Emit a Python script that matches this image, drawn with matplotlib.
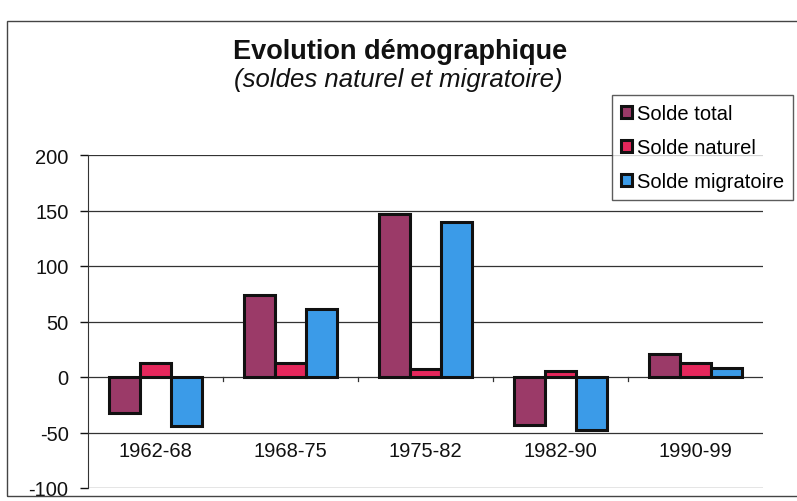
import matplotlib
matplotlib.use("Agg")
import matplotlib.pyplot as plt
import numpy as np
from matplotlib.patches import Rectangle

plt.rcParams['font.family'] = ['Liberation Sans', 'DejaVu Sans']

categories = ["1962-68", "1968-75", "1975-82", "1982-90", "1990-99"]
solde_total = [-32, 74, 147, -43, 21]
solde_naturel = [13, 13, 7, 5, 13]
solde_migratoire = [-44, 61, 140, -48, 8]
series_names = ["Solde total", "Solde naturel", "Solde migratoire"]
colors = ["#9b3a68", "#e5275c", "#3b9be8"]
yticks = [-100, -50, 0, 50, 100, 150, 200]

fig = plt.figure(figsize=(7.97, 5.02), dpi=100)
W, H = 797, 502

# outer frame of the chart
fig.patches.append(Rectangle((7 / W, 5 / H), 1.0, 475 / H, transform=fig.transFigure,
                             fill=False, edgecolor="#444444", linewidth=1.0))

ax = fig.add_axes([88 / W, 1 - 489 / H, (763 - 88) / W, (489 - 156) / H])
x = np.arange(len(categories))
w = 0.23
for k, (vals, name, c) in enumerate(zip([solde_total, solde_naturel, solde_migratoire],
                                         series_names, colors)):
    ax.bar(x + (k - 1) * w, vals, width=w, color=c, edgecolor="#111111",
           linewidth=2.2, label=name, zorder=3)

ax.set_xlim(-0.5, len(categories) - 0.5)
ax.set_ylim(-100, 200)
ax.set_yticks(yticks)
ax.set_yticklabels([str(v) for v in yticks], fontsize=14.5)
ax.tick_params(axis="y", length=6, width=1, pad=8, colors="#111111")
ax.set_xticks([])
for v in yticks:
    ax.axhline(v, color="#333333", linewidth=0.9, zorder=1)
# category boundary ticks on the zero line
for b in np.arange(0.5, len(categories) - 0.5, 1.0):
    ax.plot([b, b], [0, -4], color="#333333", linewidth=0.9, zorder=2)
for i, lab in enumerate(categories):
    ax.text(i, -66, lab, ha="center", va="center", fontsize=14.5, color="#111111")

for s in ["top", "right", "bottom"]:
    ax.spines[s].set_visible(False)
ax.spines["left"].set_color("#333333")

fig.text(400 / W, 1 - 52 / H, "Evolution démographique", ha="center", va="center",
         fontsize=19.5, fontweight="bold", color="#111111")
fig.text(398 / W, 1 - 80 / H, "(soldes naturel et migratoire)", ha="center", va="center",
         fontsize=18.5, fontstyle="italic", color="#111111")

leg = fig.legend(loc="upper left", bbox_to_anchor=(612 / W, 1 - 96 / H), fontsize=14.5,
                 frameon=True, fancybox=False, edgecolor="#333333", handlelength=0.55,
                 handleheight=0.55, handletextpad=0.25, labelspacing=0.75,
                 borderpad=0.45, borderaxespad=0)
leg.get_frame().set_linewidth(1.0)

fig.savefig("out.png", dpi=100)
